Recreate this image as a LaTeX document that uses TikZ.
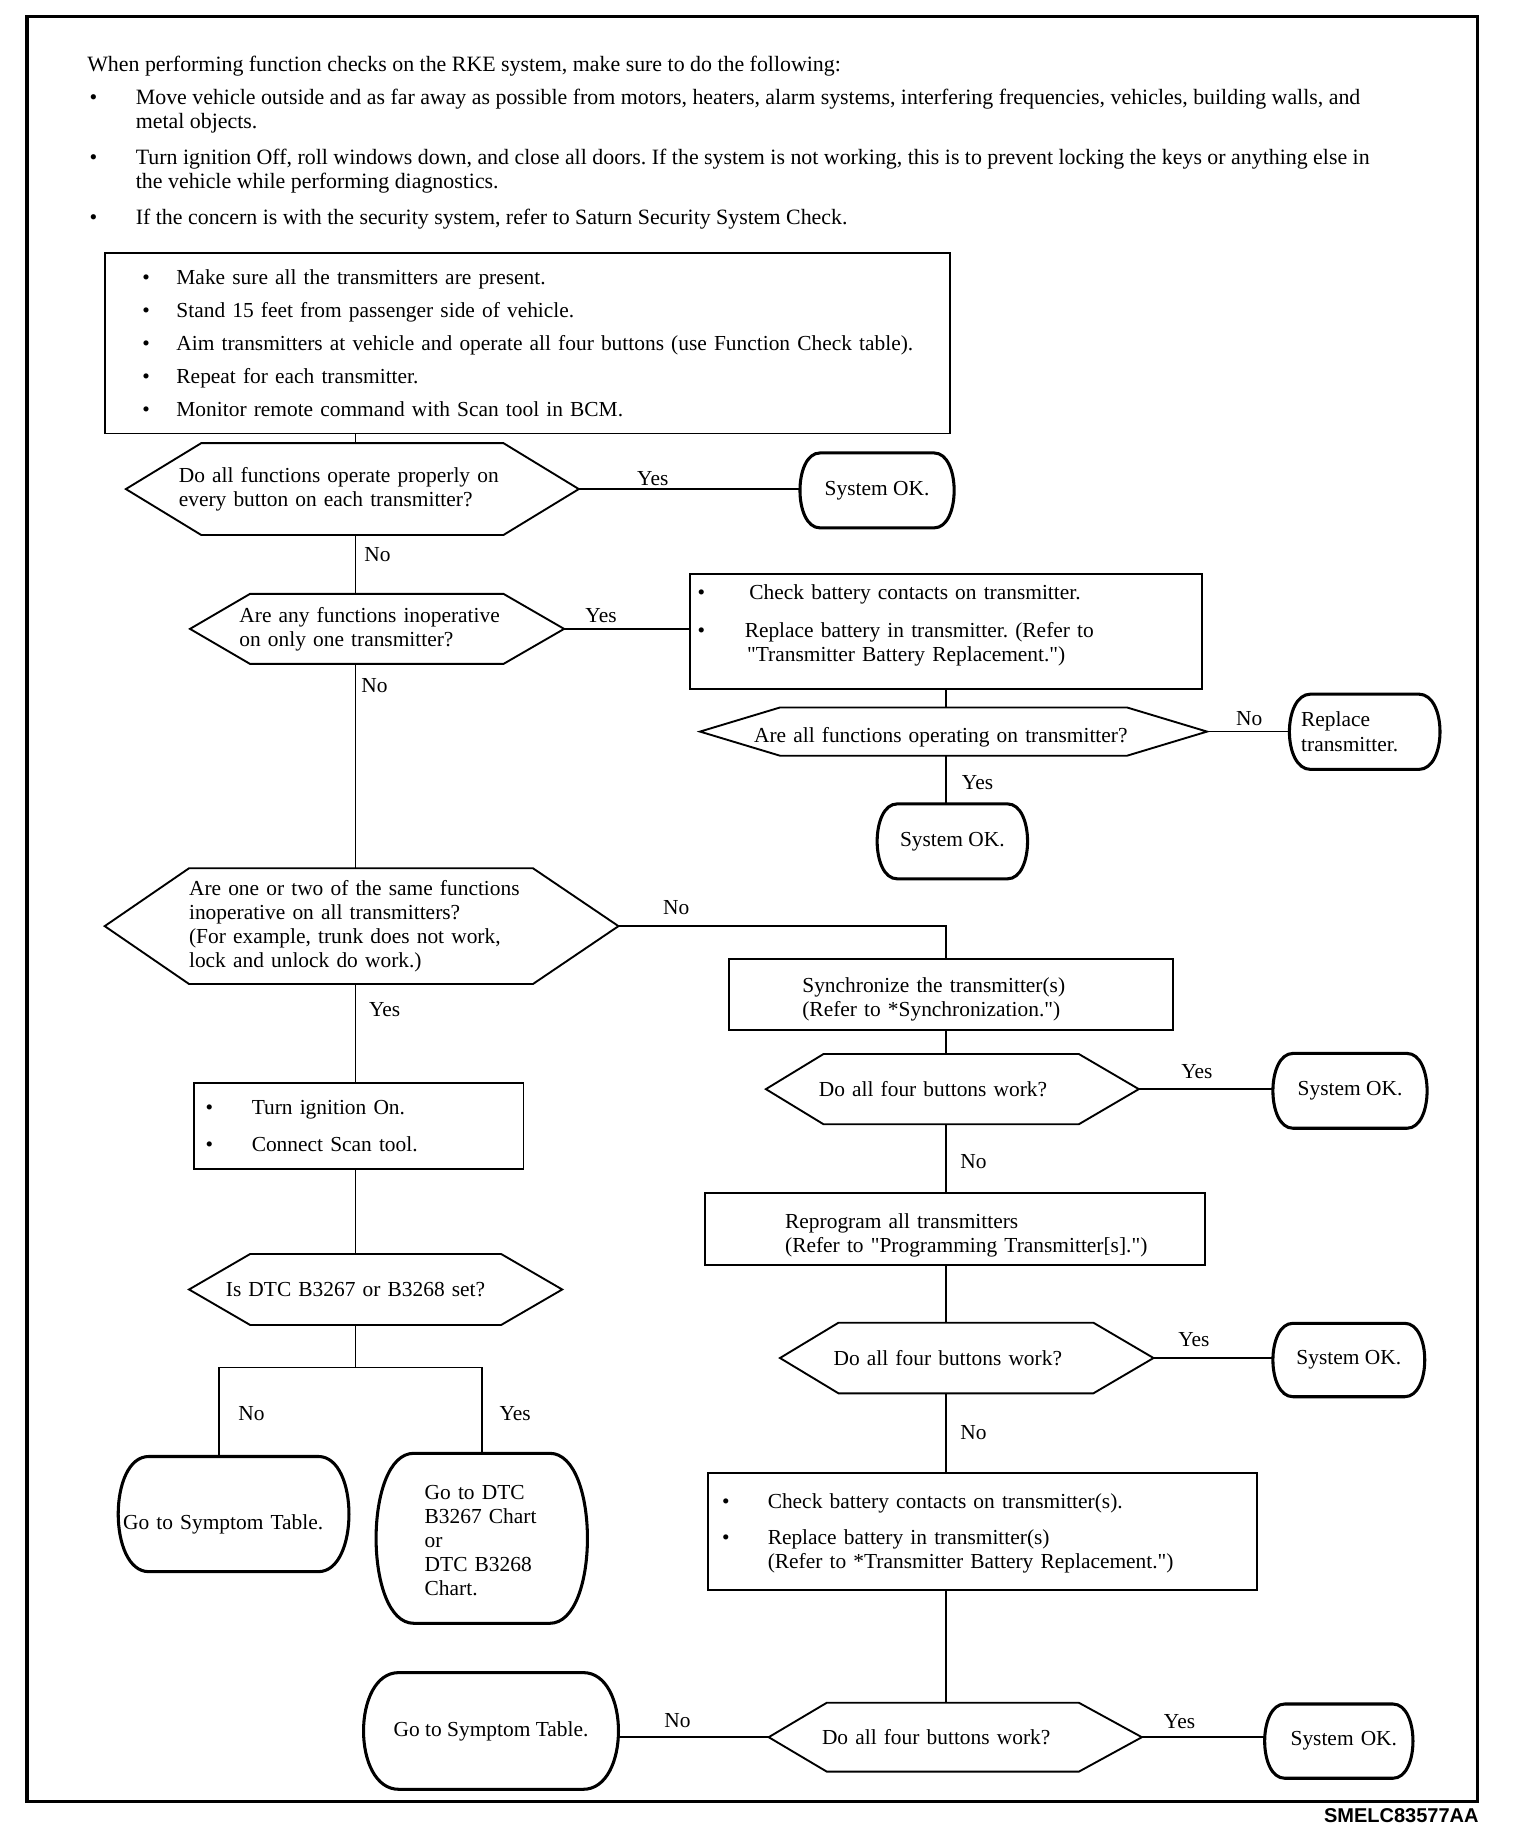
\documentclass[tikz,border=0pt]{standalone}
\usepackage{fontspec}
\setmainfont{Liberation Serif}
\newfontfamily\codefont{Liberation Sans}
\usetikzlibrary{calc}
\newcommand\fs{\fontsize{18.2}{20.5}\selectfont\frenchspacing}
\newcommand\fsi{\fontsize{18.6}{20.7}\selectfont\frenchspacing}
\newcommand\q{\textquotedbl{}}
\newcommand\bul[1]{\makebox[#1][l]{•}}
\newcommand\Ln[1]{\mbox{#1}}
\newcommand\dropby[1]{\rule{0pt}{#1}}
\newcommand\hexdraw[3]{\draw[hexline] (#1.west) -- ([xshift=#2pt]#1.north west) -- ([xshift=-#3pt]#1.north east) -- (#1.east) -- ([xshift=-#3pt]#1.south east) -- ([xshift=#2pt]#1.south west) -- cycle;}
\newcommand\termdraw[3]{\draw[termline] ([xshift=#2pt]#1.north west) -- ([xshift=-#2pt]#1.north east) .. controls ([xshift=#3pt]#1.north east) and ([xshift=#3pt]#1.south east) .. ([xshift=-#2pt]#1.south east) -- ([xshift=#2pt]#1.south west) .. controls ([xshift=-#3pt]#1.south west) and ([xshift=-#3pt]#1.north west) .. ([xshift=#2pt]#1.north west) -- cycle;}
\tikzset{
  every node/.style={font=\fs},
  conn/.style={line width=1.3pt},
  hexline/.style={line width=1.6pt, line join=miter},
  termline/.style={line width=2.6pt, line join=round},
  box/.style={draw, line width=1.6pt, inner ysep=0pt, outer sep=0pt, align=left},
  shp/.style={inner ysep=0pt, outer sep=0pt},
  lbl/.style={anchor=west, inner sep=0pt, font=\fs},
  intr/.style={inner sep=0pt, align=left, font=\fsi}
}
\begin{document}
\begin{tikzpicture}[x=1pt,y=-1pt]
\useasboundingbox (0,0) rectangle (1292,1564);
\draw[line width=2.8pt] (23,14) rectangle (1256,1531);

% introduction
\node[intr, anchor=base west] (intro) at (74,61) {When performing function checks on the RKE system, make sure to do the following:};
\node[intr, anchor=north west] (b1) at (76,75.5) {\bul{39.3pt}Move vehicle outside and as far away as possible from motors, heaters, alarm systems, interfering frequencies, vehicles, building walls, and\\\hspace*{39.3pt}metal objects.};
\node[intr, anchor=north west] (b2) at (76,126.5) {\bul{39.3pt}Turn ignition Off, roll windows down, and close all doors. If the system is not working, this is to prevent locking the keys or anything else in\\\hspace*{39.3pt}the vehicle while performing diagnostics.};
\node[intr, anchor=north west] (b3) at (76,177.5) {\bul{39.3pt}If the concern is with the security system, refer to Saturn Security System Check.};

% left column
\node[box, minimum width=718.4pt, minimum height=153.7pt, inner xsep=32pt, text width=654.4pt] (box1) at (448.2,291.65)
 {\Ln{\bul{29pt}Make sure all the transmitters are present.}\\[7.4pt]
  \Ln{\bul{29pt}Stand 15 feet from passenger side of vehicle.}\\[7.4pt]
  \Ln{\bul{29pt}Aim transmitters at vehicle and operate all four buttons (use Function Check table).}\\[7.4pt]
  \Ln{\bul{29pt}Repeat for each transmitter.}\\[7.4pt]
  \Ln{\bul{29pt}Monitor remote command with Scan tool in BCM.}};

\node[shp, minimum width=385pt, minimum height=78pt, inner xsep=45pt, text width=295pt, align=left] (d1) at (299.5,415.7)
 {\Ln{Do all functions operate properly on}\\\Ln{every button on each transmitter?}};
\node[shp, minimum width=131pt, minimum height=63.7pt, align=center] (ok1) at (745.5,416.85) {System OK.};

\node[shp, minimum width=318pt, minimum height=59.5pt, inner xsep=42pt, text width=234pt, align=left] (d2) at (320.5,534.55)
 {\Ln{Are any functions inoperative}\\\Ln{on only one transmitter?}};
\node[box, minimum width=435pt, minimum height=98pt, inner xsep=6.4pt, text width=422.2pt] (box2) at (804.15,537)
 {\Ln{\bul{44pt}Check battery contacts on transmitter.}\\[11.8pt]
  \Ln{\bul{40pt}Replace battery in transmitter. (Refer to}\\
  \Ln{\hspace*{42pt}\q Transmitter Battery Replacement.\q)}\\[-6pt]\mbox{}};
\node[shp, minimum width=431pt, minimum height=41pt, inner xsep=46pt, text width=339pt, align=left] (d3) at (810.5,621.85)
 {\Ln{\dropby{22.6pt}Are all functions operating on transmitter?}};
\node[shp, minimum width=128pt, minimum height=64pt, inner xsep=10pt, text width=108pt, align=left] (rep) at (1160,622)
 {\Ln{Replace}\\\Ln{transmitter.}};
\node[shp, minimum width=127.8pt, minimum height=63.7pt, align=center] (ok2) at (809.5,715.15) {System OK.};

\node[shp, minimum width=436.7pt, minimum height=98.4pt, inner xsep=71.7pt, text width=293.3pt, align=left] (d4) at (307.35,787.2)
 {\Ln{Are one or two of the same functions}\\\Ln{inoperative on all transmitters?}\\\Ln{(For example, trunk does not work,}\\\Ln{lock and unlock do work.)}};
\node[box, minimum width=377.4pt, minimum height=60.5pt, inner xsep=62.4pt, text width=252.6pt] (sync) at (808.3,845.25)
 {\Ln{\dropby{21.6pt}Synchronize the transmitter(s)}\\\Ln{(Refer to *Synchronization.\q)}};
\node[shp, minimum width=317pt, minimum height=59.7pt, inner xsep=45pt, text width=227pt, align=left] (d5) at (809.5,925.75)
 {\Ln{Do all four buttons work?}};
\node[shp, minimum width=131pt, minimum height=63.6pt, align=center] (ok3) at (1147.5,927.2) {System OK.};

\node[box, minimum width=280.2pt, minimum height=73.1pt, inner xsep=9.9pt, text width=260.4pt] (box3) at (304.9,957.35)
 {\Ln{\bul{39.3pt}Turn ignition On.}\\[10.6pt]\Ln{\bul{39.3pt}Connect Scan tool.}};
\node[box, minimum width=425pt, minimum height=60.9pt, inner xsep=68.4pt, text width=288.2pt] (reprog) at (811.5,1044.75)
 {\Ln{\dropby{23.6pt}Reprogram all transmitters}\\\Ln{(Refer to \q Programming Transmitter[s].\q)}};

\node[shp, minimum width=317.2pt, minimum height=60.3pt, inner xsep=31.3pt, text width=254.6pt, align=left] (d8) at (319.3,1096.05)
 {\Ln{Is DTC B3267 or B3268 set?}};
\node[shp, minimum width=317.5pt, minimum height=60pt, inner xsep=45.6pt, text width=226.3pt, align=left] (d6) at (821.75,1154.3)
 {\Ln{Do all four buttons work?}};
\node[shp, minimum width=129pt, minimum height=62.4pt, align=center] (ok4) at (1146.5,1156) {System OK.};

\node[shp, minimum width=196.1pt, minimum height=97.9pt, inner xsep=4.1pt, text width=187.9pt, align=left] (gosym1) at (198.55,1286.95)
 {\Ln{\dropby{30.6pt}Go to Symptom Table.}};
\node[shp, minimum width=179.6pt, minimum height=144.5pt, inner xsep=41.3pt, text width=97pt, align=left] (dtc) at (409.5,1307.55)
 {\Ln{\dropby{16pt}Go to DTC}\\\Ln{B3267 Chart}\\\Ln{or}\\\Ln{DTC B3268}\\\Ln{Chart.}};
\node[box, minimum width=467.1pt, minimum height=99.8pt, inner xsep=12.3pt, text width=442.5pt] (box4) at (835.05,1301.6)
 {\Ln{\dropby{16pt}\bul{38.8pt}Check battery contacts on transmitter(s).}\\[10.7pt]
  \Ln{\bul{38.8pt}Replace battery in transmitter(s)}\\
  \Ln{\hspace*{38.8pt}(Refer to *Transmitter Battery Replacement.\q)}};

\node[shp, minimum width=317.2pt, minimum height=58.6pt, inner xsep=45.3pt, text width=226.6pt, align=left] (d7) at (812,1476.6)
 {\Ln{Do all four buttons work?}};
\node[shp, minimum width=216.7pt, minimum height=99.2pt, align=center] (gosym2) at (417.35,1471.3) {Go to Symptom Table.};
\node[shp, minimum width=126pt, minimum height=63.1pt, inner xsep=22pt, text width=82pt, align=left] (ok5) at (1138,1479.95) {\Ln{System OK.}};

% outlines
\hexdraw{d1}{64}{64}
\hexdraw{d2}{51}{51.5}
\hexdraw{d3}{68}{68}
\hexdraw{d4}{71.7}{72.7}
\hexdraw{d5}{49}{51}
\hexdraw{d8}{51.9}{51.9}
\hexdraw{d6}{49.7}{51.1}
\hexdraw{d7}{49.4}{53.6}
\termdraw{ok1}{17}{5.7}
\termdraw{ok2}{17}{5.7}
\termdraw{ok3}{17}{5.7}
\termdraw{ok4}{17}{5.7}
\termdraw{ok5}{17}{5.7}
\termdraw{rep}{18}{6}
\termdraw{gosym1}{26}{8.7}
\termdraw{dtc}{32}{10.7}
\termdraw{gosym2}{30}{10}

% connectors
\coordinate (tr) at (302,0);
\coordinate (rt) at (804,0);
\draw[conn] (box1.south -| tr) -- (d1.north -| tr);
\draw[conn] (d1.east) -- (d1.east -| ok1.west) node[lbl] at (541,407) {Yes};
\draw[conn] (d1.south -| tr) -- (d2.north -| tr) node[lbl] at (309,471.7) {No};
\draw[conn] (d2.east) -- (d2.east -| box2.west) node[lbl] at (497,523) {Yes};
\draw[conn] (d2.south -| tr) -- (d4.north -| tr) node[lbl] at (306.5,583) {No};
\draw[conn] (box2.south -| rt) -- (d3.north -| rt);
\draw[conn] (d3.east) -- (d3.east -| rep.west) node[lbl] at (1050,610.5) {No};
\draw[conn] (d3.south -| rt) -- (ok2.north -| rt) node[lbl] at (817,665) {Yes};
\draw[conn] (d4.east) -| (sync.north -| rt) node[lbl] at (563,771.4) {No};
\draw[conn] (sync.south -| rt) -- (d5.north -| rt);
\draw[conn] (d5.east) -- (d5.east -| ok3.west) node[lbl] at (1003.5,911) {Yes};
\draw[conn] (d5.south -| rt) -- (reprog.north -| rt) node[lbl] at (815.7,987.4) {No};
\draw[conn] (reprog.south -| rt) -- (d6.north -| rt);
\draw[conn] (d6.east) -- (d6.east -| ok4.west) node[lbl] at (1001,1139) {Yes};
\draw[conn] (d6.south -| rt) -- (box4.north -| rt) node[lbl] at (815.7,1218) {No};
\draw[conn] (box4.south -| rt) -- (d7.north -| rt);
\draw[conn] (d7.west) -- (d7.west -| gosym2.east) node[lbl] at (564,1462.5) {No};
\draw[conn] (d7.east) -- (d7.east -| ok5.west) node[lbl] at (988.7,1463.4) {Yes};
\draw[conn] (d4.south -| tr) -- (box3.north -| tr) node[lbl] at (313,858.5) {Yes};
\draw[conn] (box3.south -| tr) -- (d8.north -| tr);
\coordinate (sl) at (186,1162.2);
\coordinate (sr) at (409.5,1162.2);
\draw[conn] (d8.south -| tr) -- (tr |- sl);
\draw[conn] (sl) -- (sr);
\draw[conn] (sl) -- (sl |- gosym1.north) node[lbl] at (202,1201.3) {No};
\draw[conn] (sr) -- (sr |- dtc.north) node[lbl] at (424,1201.3) {Yes};

\node[anchor=east, inner sep=0pt, font=\codefont\bfseries\fontsize{17}{20}\selectfont] (code) at (1257,1543) {SMELC83577AA};
\end{tikzpicture}
\end{document}
